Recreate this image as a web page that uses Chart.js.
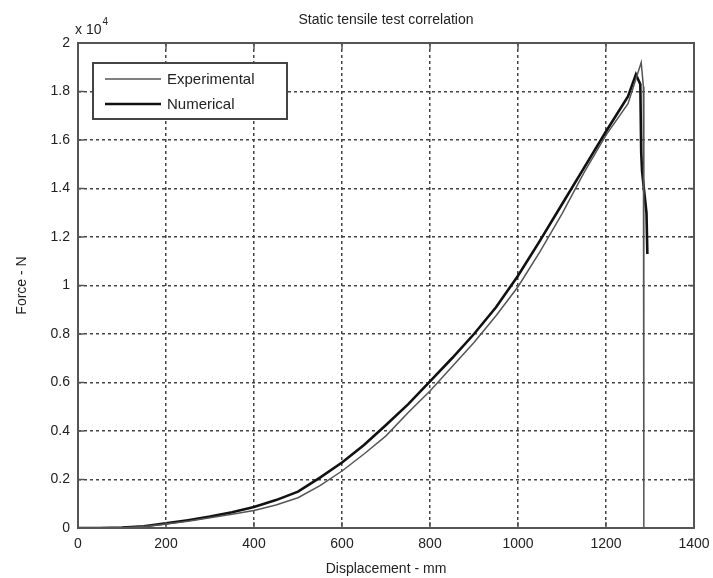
<!DOCTYPE html>
<html>
<head>
<meta charset="utf-8">
<script src="https://cdn.jsdelivr.net/npm/chart.js@4/dist/chart.umd.min.js"></script>
<style>
  html, body { margin: 0; padding: 0; background: #fff; }
  #wrap { width: 713px; height: 578px; }
</style>
</head>
<body>
<div id="wrap"><canvas id="c"></canvas></div>
<script>
// values
var expDisp  = [0, 50, 100, 150, 200, 250, 300, 350, 400, 450, 500, 550, 600, 650, 700, 750, 800, 850, 900, 950, 1000, 1050, 1100, 1150, 1200, 1250, 1280, 1285, 1286];
var expForce = [0, 0, 15, 60, 160, 280, 420, 570, 720, 950, 1250, 1750, 2350, 3050, 3800, 4750, 5650, 6650, 7650, 8750, 9950, 11400, 12950, 14650, 16200, 17500, 19200, 18200, 0];

var numDisp  = [0, 50, 100, 150, 200, 250, 300, 350, 400, 450, 500, 550, 600, 650, 700, 750, 800, 850, 900, 950, 1000, 1050, 1100, 1150, 1200, 1250, 1268, 1278, 1280, 1282, 1292, 1294];
var numForce = [0, 0, 20, 70, 190, 320, 470, 650, 870, 1150, 1500, 2080, 2700, 3420, 4250, 5100, 6050, 7000, 8000, 9100, 10400, 11850, 13350, 14850, 16350, 17800, 18700, 18300, 15500, 14700, 13000, 11300];

var xTicks = [0, 200, 400, 600, 800, 1000, 1200, 1400];
var yTickLabels = ['0', '0.2', '0.4', '0.6', '0.8', '1', '1.2', '1.4', '1.6', '1.8', '2'];
var seriesNames = ['Experimental', 'Numerical'];
var chartTitle = 'Static tensile test correlation';

function pts(xs, ys) {
  var out = [];
  for (var i = 0; i < xs.length; i++) out.push({x: xs[i], y: ys[i]});
  return out;
}

var FONT = '"Liberation Sans", Arial, sans-serif';
Chart.defaults.font.family = FONT;
Chart.defaults.color = '#222';

// box, inward ticks, title, exponent and legend drawn like the matlab figure
var decor = {
  id: 'decor',
  afterDraw: function(chart) {
    var ctx = chart.ctx, a = chart.chartArea;
    var xs = chart.scales.x, ys = chart.scales.y;
    ctx.save();
    ctx.strokeStyle = '#555';
    ctx.lineWidth = 2;
    ctx.strokeRect(a.left, a.top, a.right - a.left, a.bottom - a.top);
    ctx.lineWidth = 1.5;
    ctx.beginPath();
    xTicks.forEach(function(v) {
      var px = xs.getPixelForValue(v);
      ctx.moveTo(px, a.bottom); ctx.lineTo(px, a.bottom - 6);
      ctx.moveTo(px, a.top); ctx.lineTo(px, a.top + 6);
    });
    yTickLabels.forEach(function(t, i) {
      var py = ys.getPixelForValue(i * 2000);
      ctx.moveTo(a.left, py); ctx.lineTo(a.left + 6, py);
      ctx.moveTo(a.right, py); ctx.lineTo(a.right - 6, py);
    });
    ctx.stroke();

    // title, centred on the plot box
    ctx.fillStyle = '#222';
    ctx.textAlign = 'center';
    ctx.textBaseline = 'middle';
    ctx.font = '14px ' + FONT;
    ctx.fillText(chartTitle, (a.left + a.right) / 2, 20);

    // x 10^4
    ctx.textBaseline = 'alphabetic';
    ctx.textAlign = 'left';
    ctx.font = '14px ' + FONT;
    ctx.fillText('x 10', a.left - 3, a.top - 9);
    var w = ctx.measureText('x 10').width;
    ctx.font = '10px ' + FONT;
    ctx.fillText('4', a.left - 2 + w, a.top - 18);

    // legend box
    var lx = a.left + 15, ly = a.top + 20, lw = 194, lh = 56;
    ctx.fillStyle = '#fff';
    ctx.fillRect(lx, ly, lw, lh);
    ctx.strokeStyle = '#444';
    ctx.lineWidth = 2;
    ctx.strokeRect(lx, ly, lw, lh);
    chart.data.datasets.forEach(function(ds, i) {
      var yy = ly + 16 + i * 25;
      ctx.strokeStyle = ds.borderColor;
      ctx.lineWidth = ds.borderWidth;
      ctx.beginPath();
      ctx.moveTo(lx + 12, yy); ctx.lineTo(lx + 68, yy);
      ctx.stroke();
      ctx.fillStyle = '#222';
      ctx.font = '15px ' + FONT;
      ctx.textBaseline = 'middle';
      ctx.fillText(ds.label, lx + 74, yy + 1);
    });
    ctx.restore();
  }
};

new Chart(document.getElementById('c'), {
  type: 'scatter',
  data: {
    datasets: [{
      label: seriesNames[0],
      data: pts(expDisp, expForce),
      showLine: true,
      borderColor: '#555',
      borderWidth: 1.5,
      pointRadius: 0,
      tension: 0
    }, {
      label: seriesNames[1],
      data: pts(numDisp, numForce),
      showLine: true,
      borderColor: '#111',
      borderWidth: 2.6,
      pointRadius: 0,
      tension: 0
    }]
  },
  options: {
    responsive: true,
    maintainAspectRatio: false,
    animation: false,
    layout: { padding: { left: 0, right: 19, top: 43, bottom: 0 } },
    plugins: {
      legend: { display: false },
      tooltip: { enabled: false },
      title: { display: false }
    },
    scales: {
      x: {
        type: 'linear',
        min: 0, max: 1400,
        afterBuildTicks: function(s) { s.ticks = xTicks.map(function(v) { return {value: v}; }); },
        afterFit: function(s) { s.height = 50; s.paddingLeft = 0; s.paddingRight = 0; },
        ticks: {
          font: { size: 14 }, color: '#222', padding: 8, maxRotation: 0,
          callback: function(v) { return String(v); }
        },
        grid: { color: '#444', lineWidth: 1.5, drawTicks: false },
        border: { display: false, dash: [3, 3] },
        title: { display: true, text: 'Displacement - mm', font: { size: 14 }, color: '#222', padding: { top: 2, bottom: 0 } }
      },
      y: {
        type: 'linear',
        min: 0, max: 20000,
        afterBuildTicks: function(s) { s.ticks = yTickLabels.map(function(t, i) { return {value: i * 2000}; }); },
        afterFit: function(s) { s.width = 78; s.paddingTop = 0; s.paddingBottom = 0; },
        ticks: {
          font: { size: 14 }, color: '#222', padding: 8,
          callback: function(v, i) { return yTickLabels[i]; }
        },
        grid: { color: '#444', lineWidth: 1.5, drawTicks: false },
        border: { display: false, dash: [3, 3] },
        title: { display: true, text: 'Force - N', font: { size: 14 }, color: '#222', padding: { top: 14, bottom: 0 } }
      }
    }
  },
  plugins: [decor]
});
</script>
</body>
</html>
